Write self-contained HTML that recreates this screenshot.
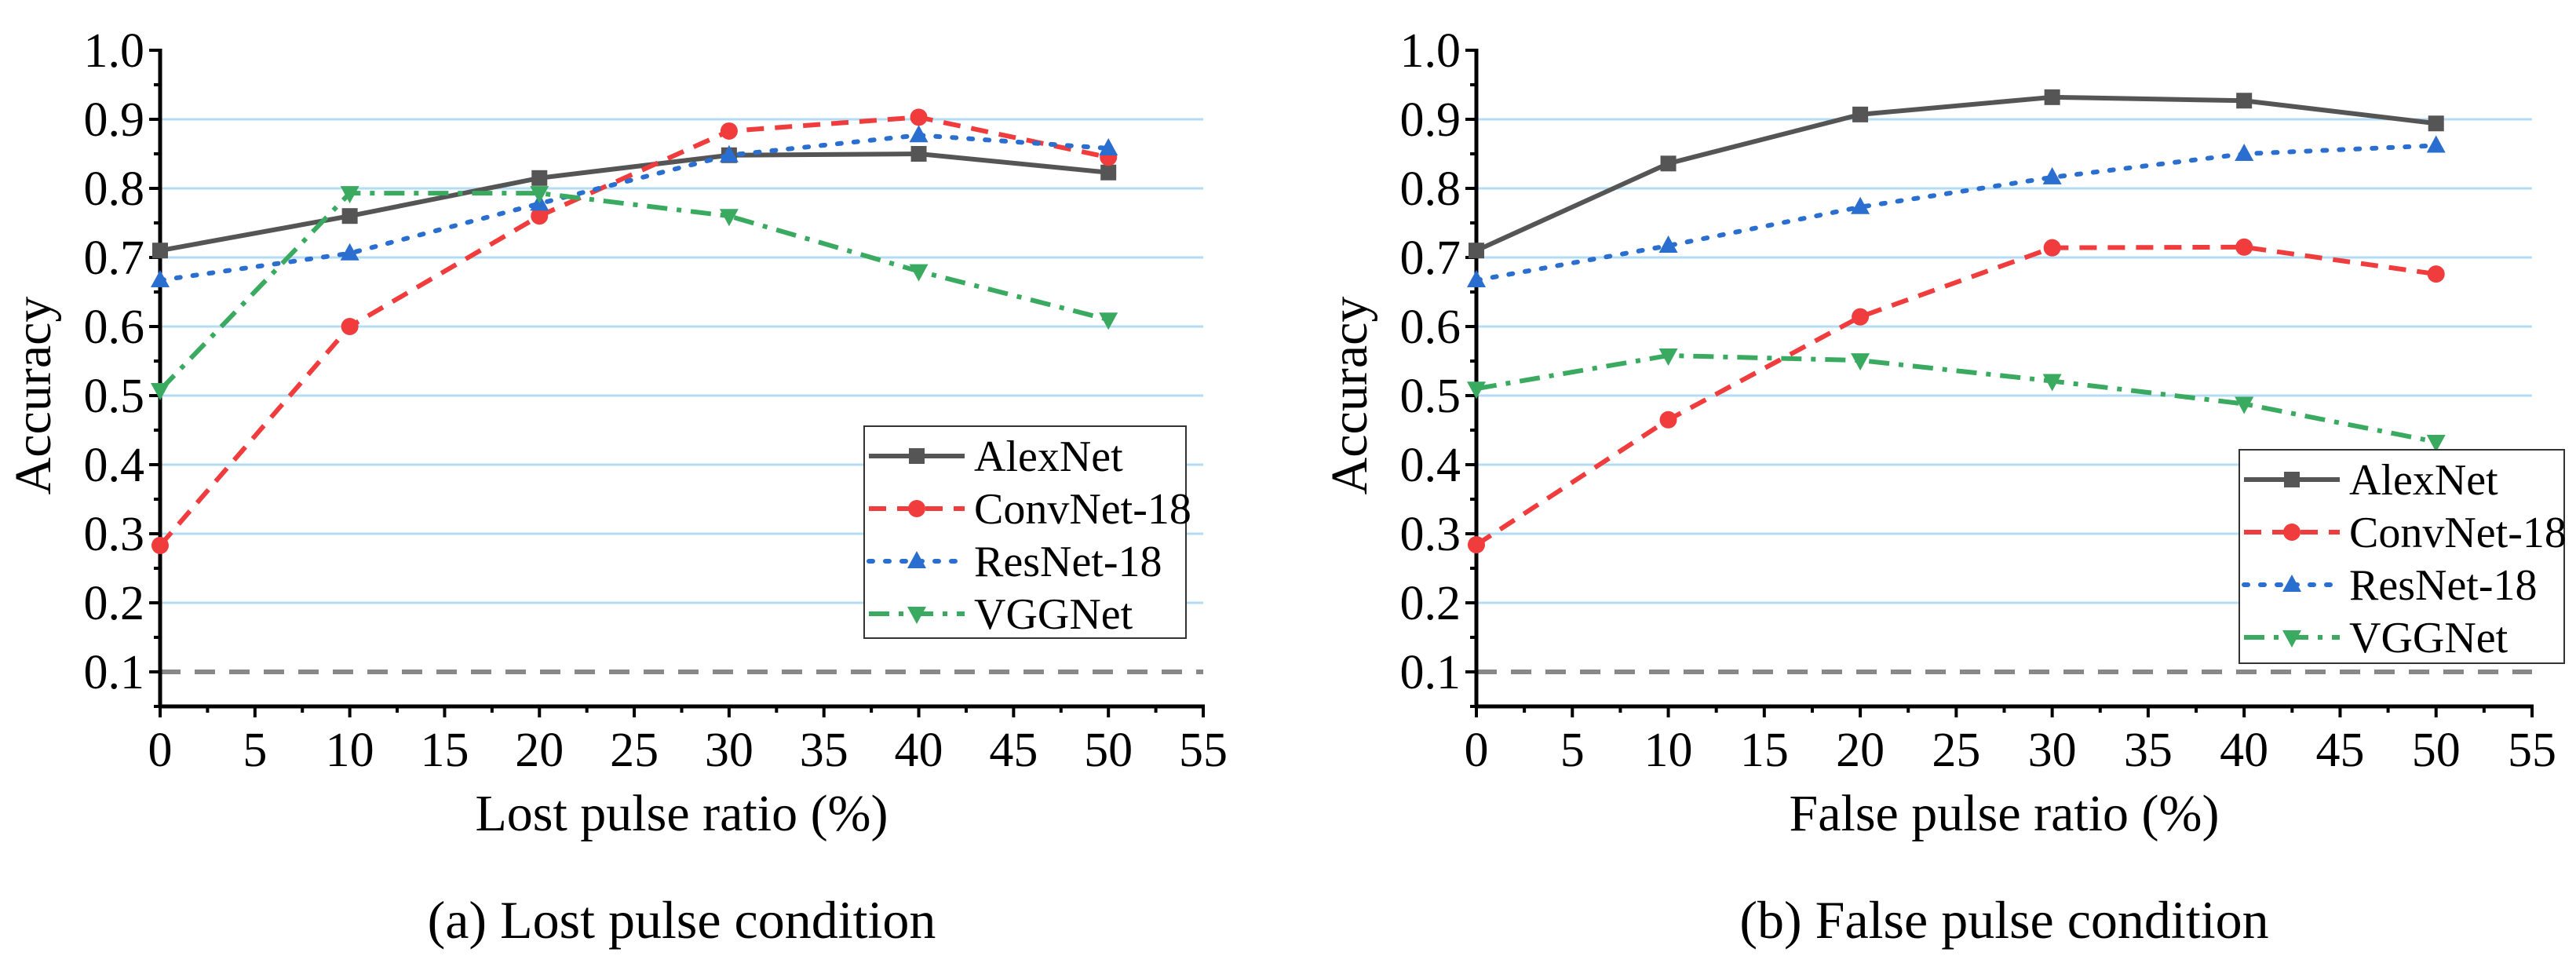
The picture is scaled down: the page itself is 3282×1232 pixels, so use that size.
<!DOCTYPE html>
<html><head><meta charset="utf-8"><style>
html,body{margin:0;padding:0;background:#fff;}
svg, svg text{font-family:"Liberation Serif","Times New Roman",serif;}
</style></head><body>
<svg id="c" width="3282" height="1227" viewBox="0 0 3282 1227" xmlns="http://www.w3.org/2000/svg" font-family="Liberation Serif, serif"></svg>
<script>
const xCats=[0,10,20,30,40,50];
const xTicks=[0,5,10,15,20,25,30,35,40,45,50,55];
const yTicks=[0.1,0.2,0.3,0.4,0.5,0.6,0.7,0.8,0.9,1.0];
const seriesNames=["AlexNet","ConvNet-18","ResNet-18","VGGNet"];
const lostAlex=[0.71,0.76,0.815,0.848,0.85,0.823];
const lostConv=[0.283,0.60,0.76,0.883,0.903,0.845];
const lostRes=[0.667,0.706,0.778,0.848,0.877,0.858];
const lostVgg=[0.508,0.793,0.793,0.76,0.68,0.61];
const falseAlex=[0.71,0.836,0.907,0.932,0.927,0.894];
const falseConv=[0.284,0.465,0.614,0.714,0.715,0.676];
const falseRes=[0.667,0.717,0.773,0.816,0.85,0.862];
const falseVgg=[0.51,0.558,0.551,0.521,0.488,0.433];
const baseline=0.1;

const NS="http://www.w3.org/2000/svg";
const svg=document.getElementById('c');
function mk(tag,attrs,parent){const e=document.createElementNS(NS,tag);for(const k in attrs)e.setAttribute(k,attrs[k]);(parent||svg).appendChild(e);return e;}
const FF="Liberation Serif, serif";
const styles=[
 {color:"#555555",dash:"",marker:"square"},
 {color:"#f03c3c",dash:"22,14",marker:"circle"},
 {color:"#2a6fcf",dash:"5,16",marker:"tri"},
 {color:"#3aaa60",dash:"26,12,6,12",marker:"tridown"}
];
function marker(g,type,x,y,color){
 let e;
 if(type==="square"){e=mk('rect',{x:x-10,y:y-10,width:20,height:20,fill:color},g);}
 else if(type==="circle"){e=mk('circle',{cx:x,cy:y,r:11,fill:color},g);}
 else if(type==="tri"){e=mk('polygon',{points:`${x},${y-13} ${x-12},${y+9} ${x+12},${y+9}`,fill:color},g);}
 else {e=mk('polygon',{points:`${x},${y+13} ${x-12},${y-9} ${x+12},${y-9}`,fill:color},g);}
 
 
}
function panel(id,x0,x1,title,caption,data,legend){
 const y1=64,y01=856;
 const X=v=>x0+(x1-x0)*v/55;
 const Y=v=>y01-(v-0.1)*(y01-y1)/0.9;
 const bottom=Y(0.05);
 const g=mk('g',{});
 
 
 yTicks.forEach(t=>{ if(t>0.15&&t<0.95){const l=mk('line',{x1:x0,x2:x1,y1:Y(t),y2:Y(t),stroke:"#b3dcf5","stroke-width":3},g);}});
 const bl=mk('line',{x1:x0,x2:x1,y1:Y(baseline),y2:Y(baseline),stroke:"#888","stroke-width":6,"stroke-dasharray":"26,18"},g);
 
 const ya=mk('line',{x1:x0,x2:x0,y1:Y(1.0)-2,y2:bottom+2,stroke:"#000","stroke-width":5},g);
 
 const xa=mk('line',{x1:x0-2,x2:x1+2,y1:bottom,y2:bottom,stroke:"#000","stroke-width":5},g);
 
 for(let v=0.05;v<=1.001;v+=0.05){const major=Math.abs(v*10-Math.round(v*10))<0.01;
  mk('line',{x1:x0,x2:x0-(major?14:8),y1:Y(v),y2:Y(v),stroke:"#000","stroke-width":4},g);}
 yTicks.forEach(t=>{const tx=mk('text',{x:x0-20,y:Y(t)+21,"font-size":62,"font-family":FF,"text-anchor":"end",fill:"#000"},g);tx.textContent=t.toFixed(1);});
 for(let v=0;v<=55.01;v+=2.5){const major=Math.abs(v/5-Math.round(v/5))<0.01;
  mk('line',{x1:X(v),x2:X(v),y1:bottom,y2:bottom+(major?14:8),stroke:"#000","stroke-width":4},g);}
 xTicks.forEach(t=>{const tx=mk('text',{x:X(t),y:bottom+76,"font-size":62,"font-family":FF,"text-anchor":"middle",fill:"#000"},g);tx.textContent=t;});
 const xt=mk('text',{x:(x0+x1)/2,y:1058,"font-size":66,"font-family":FF,"text-anchor":"middle",fill:"#000"},g);xt.textContent=title;
 
 const yt=mk('text',{x:0,y:0,"font-size":66,"font-family":FF,"text-anchor":"middle",fill:"#000",transform:`translate(${x0-140},${Y(0.5)}) rotate(-90)`},g);yt.textContent="Accuracy";
 
 const cp=mk('text',{x:(x0+x1)/2,y:1195,"font-size":68,"font-family":FF,"text-anchor":"middle",fill:"#000"},g);cp.textContent=caption;
 
 data.forEach((arr,i)=>{const s=styles[i];
  const sg=mk('g',{},g);
  
  
  const pts=arr.map((v,j)=>X(xCats[j])+","+Y(v)).join(" ");
  const pl=mk('polyline',{points:pts,fill:"none",stroke:s.color,"stroke-width":6,"stroke-dasharray":s.dash,"stroke-linecap":i==2?"round":"butt"},sg);
  
  arr.forEach((v,j)=>marker(sg,s.marker,X(xCats[j]),Y(v),s.color));
 });
 const [lx,ly,lw,lh]=legend;
 const lg=mk('g',{},g);
 
 mk('rect',{x:lx,y:ly,width:lw,height:lh,fill:"#fff",stroke:"#333","stroke-width":2},lg);
 seriesNames.forEach((n,i)=>{const s=styles[i];const cy=ly+38+i*67;
  const e=mk('g',{},lg);
  mk('line',{x1:lx+6,x2:lx+128,y1:cy,y2:cy,stroke:s.color,"stroke-width":6,"stroke-dasharray":s.dash,"stroke-linecap":i==2?"round":"butt"},e);
  marker(e,s.marker,lx+67,cy,s.color);
  const t=mk('text',{x:lx+140,y:cy+19,"font-size":56,"font-family":FF,fill:"#000"},e);t.textContent=n;
 });
}
panel("lost",204,1533,"Lost pulse ratio (%)","(a)  Lost pulse condition",[lostAlex,lostConv,lostRes,lostVgg],[1101,543,410,270]);
panel("false",1881,3226,"False pulse ratio (%)","(b)  False pulse condition",[falseAlex,falseConv,falseRes,falseVgg],[2853,573,414,272]);
</script>
</body></html>
